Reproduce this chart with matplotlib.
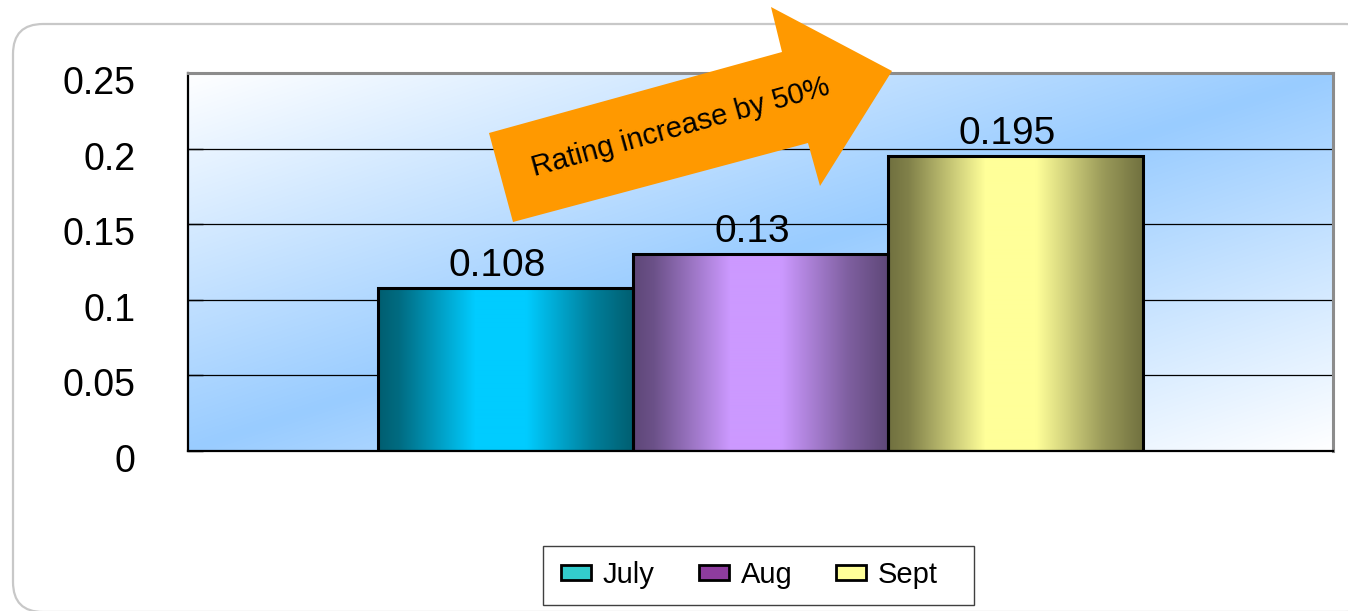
import matplotlib
matplotlib.use('Agg')
import matplotlib.pyplot as plt
import matplotlib.patches as patches
from matplotlib.colors import to_rgb
from matplotlib.transforms import ScaledTranslation
import numpy as np

months = ['July', 'Aug', 'Sept']
ratings = [0.108, 0.13, 0.195]
yticks = [0, 0.05, 0.1, 0.15, 0.2, 0.25]
ytick_labels = ['0', '0.05', '0.1', '0.15', '0.2', '0.25']
arrow_label = 'Rating increase by 50%'

# (edge shade, centre highlight, legend swatch) for each bar
bar_dark = ['#005E70', '#5E4778', '#70703F']
bar_light = ['#00CCFF', '#CC99FF', '#FFFF99']
swatch = ['#33CCCC', '#8E3C9E', '#FFFF99']

plt.rcParams['font.family'] = ['Liberation Sans', 'DejaVu Sans']


def shade_profile(n=256):
    # horizontal "cylinder" shading: dark edges, bright band left of centre
    t = np.linspace(0, 1, n)
    stops = [0.0, 0.08, 0.38, 0.58, 0.84, 1.0]
    level = [0.0, 0.12, 1.0, 1.0, 0.3, 0.0]
    return np.interp(t, stops, level)


def main():
    fig = plt.figure(figsize=(13.48, 6.11), dpi=100, facecolor='white')
    px = fig.dpi_scale_trans

    # rounded chart frame
    frame = patches.FancyBboxPatch(
        (0.13, -0.01), 13.62, 5.88,
        boxstyle='round,pad=0,rounding_size=0.3',
        fc='white', ec='#C8C8C8', lw=1.6, transform=px, zorder=0
    )
    fig.add_artist(frame)

    ax = fig.add_axes([0.13947, 0.26186, 0.84940, 0.61866])
    ax.set_facecolor('none')

    # plot-area background: white -> light blue -> white along the diagonal
    h, w = 200, 600
    u = np.linspace(0, 1, w)[None, :]
    v = np.linspace(0, 1, h)[:, None]
    t = u + v
    f = np.where(t <= 1, t, 2 - t)
    f = np.clip(f, 0, 1)[..., None]
    blue = np.array(to_rgb('#99CCFF'))
    bg = (1 - f) * np.ones(3) + f * blue
    ax.imshow(bg, extent=(0, 1, 0, 1), transform=ax.transAxes,
              aspect='auto', zorder=0, interpolation='bilinear')

    x = np.arange(len(months))
    bars = ax.bar(x, ratings, width=1.0, facecolor='none',
                  edgecolor='black', linewidth=2.2, zorder=3)

    prof = shade_profile()[None, :, None]
    for i, bar in enumerate(bars):
        dark = np.array(to_rgb(bar_dark[i]))
        light = np.array(to_rgb(bar_light[i]))
        img = dark + prof * (light - dark)
        im = ax.imshow(img, extent=(bar.get_x(), bar.get_x() + bar.get_width(),
                                    0, bar.get_height()),
                       aspect='auto', zorder=2, interpolation='bilinear')
        im.set_clip_path(bar)
        ax.annotate('{:g}'.format(ratings[i]), xy=(x[i], ratings[i]),
                    xytext=(-6, 3), textcoords='offset points',
                    ha='center', va='bottom', fontsize=28, zorder=5)

    ax.set_xlim(-1.245, 3.245)
    ax.set_ylim(0, 0.25)
    ax.set_xticks([])
    ax.set_yticks(yticks)
    ax.set_yticklabels(ytick_labels, fontsize=27)
    ax.tick_params(axis='y', direction='in', length=11, width=1, pad=38)
    offset = ScaledTranslation(0, -0.07, fig.dpi_scale_trans)
    for lbl in ax.get_yticklabels():
        lbl.set_transform(lbl.get_transform() + offset)

    ax.set_axisbelow(True)
    ax.yaxis.grid(True, color='black', lw=0.9, zorder=1)
    for s in ['top', 'right']:
        ax.spines[s].set_color('#8C8C8C')
        ax.spines[s].set_linewidth(2.2)
    for s in ['left', 'bottom']:
        ax.spines[s].set_color('black')
        ax.spines[s].set_linewidth(1.6)

    # legend box drawn separately so its right margin can be wider
    legbox = patches.Rectangle((5.43, 0.06), 4.31, 0.59, fc='white',
                               ec='#404040', lw=1.0, transform=px, zorder=4)
    fig.add_artist(legbox)
    handles = [patches.Patch(fc=swatch[i], ec='black', lw=2.0, label=m)
               for i, m in enumerate(months)]
    fig.legend(handles=handles, loc='center left', ncol=3,
               bbox_to_anchor=(561 / 1348.0, 1 - 575 / 611.0), fontsize=21,
               frameon=False, borderpad=0, borderaxespad=0,
               handlelength=1.03, handleheight=0.45, handletextpad=0.41,
               columnspacing=1.5)

    # orange call-out arrow, pixel positions measured from the top edge
    pts = [(513, 222), (489, 133), (782, 52), (771, 7),
           (892, 71), (820, 186), (808, 143)]
    pts = [(a / 100.0, (611 - b) / 100.0) for a, b in pts]
    arrow = patches.Polygon(pts, closed=True, fc='#FF9900', ec='none',
                            transform=px, zorder=10)
    fig.add_artist(arrow)
    fig.text(6.83, (611 - 135.5) / 100.0, arrow_label, transform=px,
             rotation=15.5, rotation_mode='anchor', ha='center',
             va='baseline', fontsize=21, zorder=11)

    fig.savefig('out.png', dpi=100, facecolor='white')


if __name__ == '__main__':
    main()
